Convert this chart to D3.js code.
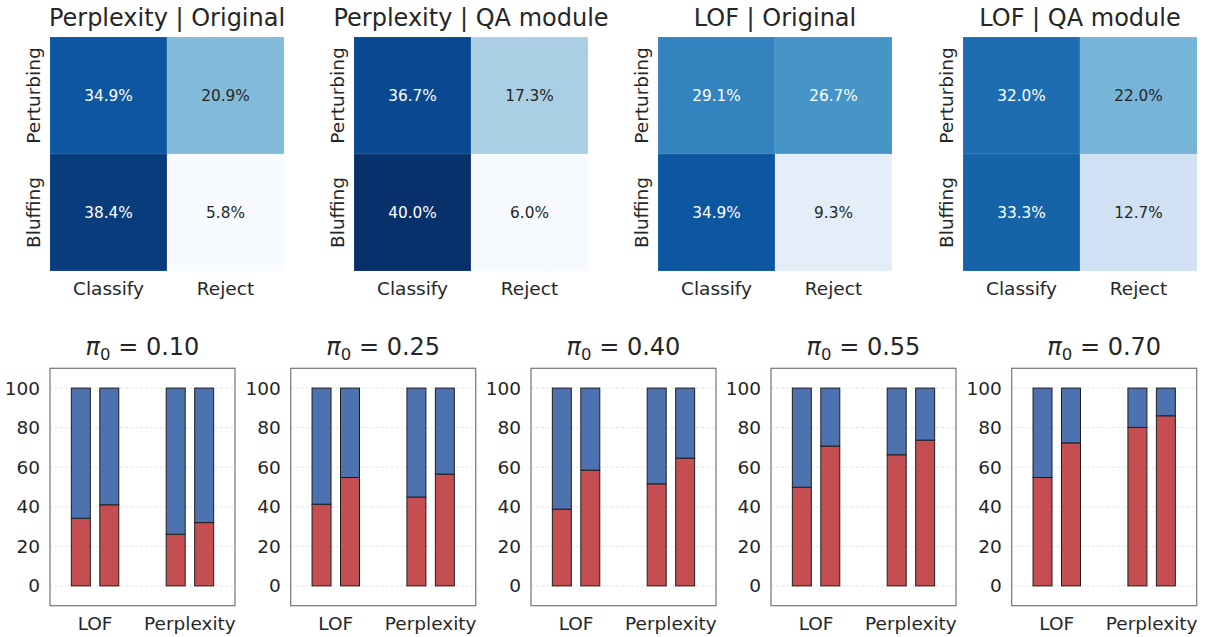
<!DOCTYPE html>
<html>
<head>
<meta charset="utf-8">
<script src="https://cdn.jsdelivr.net/npm/d3@7"></script>
<style>
  html, body { margin: 0; padding: 0; background: #fff; }
  svg { display: block; font-family: "DejaVu Sans", sans-serif; }
</style>
</head>
<body>
<svg id="fig" width="1207" height="637"></svg>
<script>
// ---- Confusion-style heatmaps (rows: attack type, cols: decision) ----
const hmTitles = ["Perplexity | Original", "Perplexity | QA module", "LOF | Original", "LOF | QA module"];
const hmRows = ["Perturbing", "Bluffing"];
const hmCols = ["Classify", "Reject"];
const hmPerplexityOriginal = [[34.9, 20.9], [38.4, 5.8]];
const hmPerplexityQA       = [[36.7, 17.3], [40.0, 6.0]];
const hmLofOriginal        = [[29.1, 26.7], [34.9, 9.3]];
const hmLofQA              = [[32.0, 22.0], [33.3, 12.7]];
const hmValues = [hmPerplexityOriginal, hmPerplexityQA, hmLofOriginal, hmLofQA];

// ---- Stacked bars per prior pi_0 (red share, remainder to 100 in blue) ----
const priors = ["0.10", "0.25", "0.40", "0.55", "0.70"];
const methods = ["LOF", "Perplexity"];
const variants = ["Original", "QA module"];
// redShare[prior][method] = [Original, QA module]
const redShare = [
  [[34.2, 41.0], [26.1, 32.0]],
  [[41.3, 54.8], [44.9, 56.5]],
  [[38.8, 58.5], [51.6, 64.6]],
  [[49.9, 70.7], [66.3, 73.7]],
  [[54.8, 72.3], [80.1, 86.0]]
];
const yTicks = [0, 20, 40, 60, 80, 100];

const svg = d3.select("#fig");
const textDark = "#262626";

// Matplotlib-style "Blues": piecewise linear through the ColorBrewer stops
const bluesStops = ["#f7fbff","#deebf7","#c6dbef","#9ecae1","#6baed6","#4292c6","#2171b5","#08519c","#08306b"];
const allVals = hmValues.flat(2);
const vmin = d3.min(allVals), vmax = d3.max(allVals);
const blues = d3.scaleLinear()
  .domain(d3.range(9).map(i => vmin + (vmax - vmin) * i / 8))
  .range(bluesStops)
  .interpolate(d3.interpolateRgb)
  .clamp(true);

function luminance(c) {
  const rgb = d3.rgb(c);
  const lin = v => { v /= 255; return v <= 0.03928 ? v / 12.92 : Math.pow((v + 0.055) / 1.055, 2.4); };
  return 0.2126 * lin(rgb.r) + 0.7152 * lin(rgb.g) + 0.0722 * lin(rgb.b);
}

const hmLeft = [50, 354, 658, 963];
const hmTop = 37, hmSize = 234;

hmValues.forEach((mat, k) => {
  const g = svg.append("g").attr("transform", `translate(${hmLeft[k]},${hmTop})`);
  const x = d3.scaleBand().domain(hmCols).range([0, hmSize]);
  const y = d3.scaleBand().domain(hmRows).range([0, hmSize]);

  const cells = [];
  mat.forEach((row, i) => row.forEach((v, j) => cells.push({ r: hmRows[i], c: hmCols[j], v })));

  g.selectAll("rect").data(cells).join("rect")
    .attr("x", d => x(d.c)).attr("y", d => y(d.r))
    .attr("width", x.bandwidth()).attr("height", y.bandwidth())
    .attr("fill", d => blues(d.v))
    .attr("stroke", "rgba(255,255,255,0.2)").attr("stroke-width", 0.5);

  g.selectAll("text.ann").data(cells).join("text")
    .attr("class", "ann")
    .attr("x", d => x(d.c) + x.bandwidth() / 2)
    .attr("y", d => y(d.r) + y.bandwidth() / 2)
    .attr("text-anchor", "middle").attr("dominant-baseline", "central")
    .attr("font-size", 15.3)
    .attr("fill", d => luminance(blues(d.v)) > 0.35 ? textDark : "#ffffff")
    .text(d => d.v.toFixed(1) + "%");

  // column labels
  g.selectAll("text.col").data(hmCols).join("text")
    .attr("class", "col")
    .attr("x", d => x(d) + x.bandwidth() / 2).attr("y", hmSize + 24)
    .attr("text-anchor", "middle").attr("font-size", 18.5).attr("fill", textDark)
    .text(d => d);

  // row labels (rotated)
  g.selectAll("text.row").data(hmRows).join("text")
    .attr("class", "row")
    .attr("transform", d => `translate(-10,${y(d) + y.bandwidth() / 2}) rotate(-90)`)
    .attr("text-anchor", "middle").attr("font-size", 18.5).attr("fill", textDark)
    .text(d => d);

  // title
  g.append("text")
    .attr("x", hmSize / 2).attr("y", 26 - hmTop)
    .attr("text-anchor", "middle").attr("font-size", 24).attr("fill", textDark)
    .text(hmTitles[k]);
});

// ---- Bar panels ----
const barLeft = [50, 290.7, 531, 771, 1011.7];
const barTop = 368.3, barW = 185, barH = 237.4;
const colRed = "#c44e52", colBlue = "#4c72b0";
const barWidth = 0.2, offsets = [-0.15, 0.15];

priors.forEach((p, k) => {
  const g = svg.append("g").attr("transform", `translate(${barLeft[k]},${barTop})`);
  const x = d3.scaleLinear().domain([-0.475, 1.475]).range([0, barW]);
  const y = d3.scaleLinear().domain([-10, 110]).range([barH, 0]);

  // horizontal grid
  g.selectAll("line.grid").data(yTicks).join("line")
    .attr("class", "grid")
    .attr("x1", 0).attr("x2", barW)
    .attr("y1", d => y(d)).attr("y2", d => y(d))
    .attr("stroke", "#dddddd").attr("stroke-width", 0.8)
    .attr("stroke-dasharray", "3,2");

  const bars = [];
  redShare[k].forEach((pair, m) => pair.forEach((v, vi) => {
    bars.push({ xc: m + offsets[vi], lo: 0, hi: v, fill: colRed, variant: variants[vi] });
    bars.push({ xc: m + offsets[vi], lo: v, hi: 100, fill: colBlue, variant: variants[vi] });
  }));

  g.selectAll("rect.bar").data(bars).join("rect")
    .attr("class", "bar")
    .attr("x", d => x(d.xc - barWidth / 2))
    .attr("width", d => x(d.xc + barWidth / 2) - x(d.xc - barWidth / 2))
    .attr("y", d => y(d.hi))
    .attr("height", d => y(d.lo) - y(d.hi))
    .attr("fill", d => d.fill)
    .attr("stroke", "#1e1e1e").attr("stroke-width", 1);

  // frame
  g.append("rect")
    .attr("x", 0).attr("y", 0).attr("width", barW).attr("height", barH)
    .attr("fill", "none").attr("stroke", "#7a7a7a").attr("stroke-width", 1.25);

  // y tick labels
  g.selectAll("text.yt").data(yTicks).join("text")
    .attr("class", "yt")
    .attr("x", -10).attr("y", d => y(d))
    .attr("text-anchor", "end").attr("dominant-baseline", "central")
    .attr("font-size", 18.5).attr("fill", textDark)
    .text(d => d);

  // x tick labels
  g.selectAll("text.xt").data(methods).join("text")
    .attr("class", "xt")
    .attr("x", (d, i) => x(i)).attr("y", barH + 24.5)
    .attr("text-anchor", "middle").attr("font-size", 18.5).attr("fill", textDark)
    .text(d => d);

  // title: pi_0 = value
  const t = g.append("text")
    .attr("x", barW / 2).attr("y", 355 - barTop)
    .attr("text-anchor", "middle").attr("font-size", 24).attr("fill", textDark);
  t.append("tspan").attr("font-style", "italic").text("π");
  t.append("tspan").attr("font-size", 16.5).attr("dy", 5).text("0");
  t.append("tspan").attr("dy", -5).text(" = " + p);
});
</script>
</body>
</html>
